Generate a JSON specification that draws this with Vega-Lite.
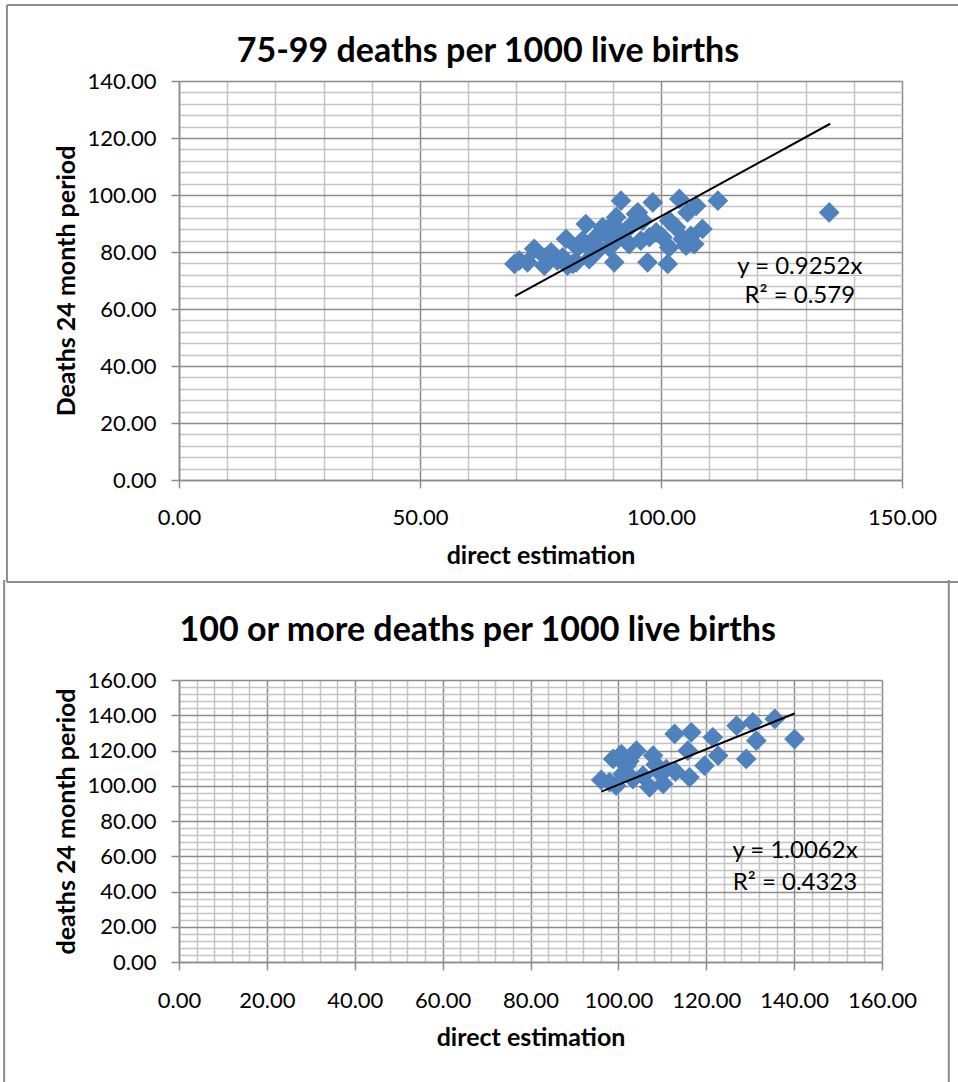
{
  "$schema": "https://vega.github.io/schema/vega-lite/v6.json",
  "background": "white",
  "padding": {"left": 3, "top": 3, "right": 0, "bottom": 0},
  "spacing": -5,
  "config": {
    "font": "Lato",
    "view": {"stroke": null},
    "axis": {
      "labelFont": "Lato", "labelFontSize": 22, "labelColor": "black", "labelFlush": false, "labelOverlap": false,
      "titleFont": "Lato", "titleFontSize": 25, "titleFontWeight": "bold", "titleColor": "black",
      "tickColor": "#8c8c8c", "tickSize": 8, "tickWidth": 1.5,
      "domainColor": "#8c8c8c", "domainWidth": 1.5,
      "gridWidth": 1.5
    }
  },
  "datasets": {
    "top_points": [
      {"direct": 69.6, "deaths": 75.8}, {"direct": 70.6, "deaths": 77.0}, {"direct": 72.3, "deaths": 76.4},
      {"direct": 73.7, "deaths": 81.1}, {"direct": 75.8, "deaths": 75.2}, {"direct": 76.1, "deaths": 78.1},
      {"direct": 77.2, "deaths": 79.9}, {"direct": 78.5, "deaths": 77.0}, {"direct": 79.6, "deaths": 78.1},
      {"direct": 80.3, "deaths": 84.6}, {"direct": 80.6, "deaths": 75.2}, {"direct": 81.7, "deaths": 75.8},
      {"direct": 82.4, "deaths": 76.4}, {"direct": 82.7, "deaths": 81.6}, {"direct": 83.7, "deaths": 84.0},
      {"direct": 84.4, "deaths": 89.8}, {"direct": 85.1, "deaths": 77.5}, {"direct": 85.1, "deaths": 81.6},
      {"direct": 86.5, "deaths": 85.2}, {"direct": 87.2, "deaths": 81.1}, {"direct": 87.9, "deaths": 88.7},
      {"direct": 88.6, "deaths": 86.3}, {"direct": 89.3, "deaths": 81.6}, {"direct": 90.0, "deaths": 89.8},
      {"direct": 90.3, "deaths": 76.4}, {"direct": 90.7, "deaths": 92.2}, {"direct": 91.4, "deaths": 85.2},
      {"direct": 91.7, "deaths": 98.0}, {"direct": 92.7, "deaths": 87.5}, {"direct": 93.4, "deaths": 82.8},
      {"direct": 94.1, "deaths": 89.8}, {"direct": 94.8, "deaths": 93.3}, {"direct": 95.2, "deaths": 93.9},
      {"direct": 95.8, "deaths": 84.0}, {"direct": 96.2, "deaths": 91.0}, {"direct": 97.2, "deaths": 76.4},
      {"direct": 97.6, "deaths": 85.2}, {"direct": 98.3, "deaths": 97.4}, {"direct": 99.0, "deaths": 86.9},
      {"direct": 100.3, "deaths": 85.2}, {"direct": 101.4, "deaths": 75.8}, {"direct": 101.7, "deaths": 91.0},
      {"direct": 101.7, "deaths": 81.6}, {"direct": 103.1, "deaths": 88.7}, {"direct": 103.8, "deaths": 98.6},
      {"direct": 104.5, "deaths": 84.6}, {"direct": 105.2, "deaths": 82.2}, {"direct": 105.5, "deaths": 93.9},
      {"direct": 106.2, "deaths": 85.7}, {"direct": 106.9, "deaths": 82.8}, {"direct": 107.3, "deaths": 96.2},
      {"direct": 108.6, "deaths": 88.1}, {"direct": 111.8, "deaths": 98.0}, {"direct": 134.9, "deaths": 93.9}
    ],
    "top_trend": [
      {"direct": 69.7, "deaths": 64.5},
      {"direct": 135.1, "deaths": 125.0}
    ],
    "top_labels": [
      {"direct": 128.8, "deaths": 74.9, "label": "y = 0.9252x"},
      {"direct": 128.8, "deaths": 64.6, "label": "R² = 0.579"}
    ],
    "top_title": [
      {"direct": 64.1, "deaths": 150.2, "label": "75-99 deaths per 1000 live births"}
    ],
    "top_frame": [
      {"x": -35.7, "x2": 161.8, "y": 166.7, "y2": 166.7},
      {"x": -35.7, "x2": -35.7, "y": 166.7, "y2": -35.8},
      {"x": -35.7, "x2": 161.8, "y": -35.8, "y2": -35.8}
    ],
    "bottom_points": [
      {"direct": 96.1, "deaths": 103.3}, {"direct": 98.0, "deaths": 102.0}, {"direct": 98.8, "deaths": 115.2},
      {"direct": 99.5, "deaths": 100.0}, {"direct": 100.7, "deaths": 118.0}, {"direct": 101.0, "deaths": 106.7},
      {"direct": 101.8, "deaths": 111.4}, {"direct": 102.5, "deaths": 114.0}, {"direct": 103.3, "deaths": 103.8},
      {"direct": 104.1, "deaths": 119.9}, {"direct": 105.6, "deaths": 105.7}, {"direct": 107.1, "deaths": 99.1},
      {"direct": 107.9, "deaths": 117.1}, {"direct": 108.5, "deaths": 112.0}, {"direct": 109.4, "deaths": 107.6},
      {"direct": 110.2, "deaths": 101.0}, {"direct": 110.9, "deaths": 109.5}, {"direct": 112.8, "deaths": 129.4},
      {"direct": 113.0, "deaths": 108.0}, {"direct": 115.8, "deaths": 119.9}, {"direct": 116.2, "deaths": 104.8},
      {"direct": 116.6, "deaths": 130.3}, {"direct": 119.6, "deaths": 111.4}, {"direct": 121.5, "deaths": 127.5},
      {"direct": 122.7, "deaths": 117.1}, {"direct": 126.9, "deaths": 134.1}, {"direct": 129.1, "deaths": 115.2},
      {"direct": 130.6, "deaths": 136.0}, {"direct": 131.4, "deaths": 125.6}, {"direct": 135.6, "deaths": 137.9},
      {"direct": 140.1, "deaths": 126.5}
    ],
    "bottom_trend": [
      {"direct": 96.1, "deaths": 96.7},
      {"direct": 140.1, "deaths": 141.0}
    ],
    "bottom_labels": [
      {"direct": 140.2, "deaths": 63.0, "label": "y = 1.0062x"},
      {"direct": 140.2, "deaths": 44.8, "label": "R² = 0.4323"}
    ],
    "bottom_title": [
      {"direct": 68.0, "deaths": 187.8, "label": "100 or more deaths per 1000 live births"}
    ],
    "bottom_frame": [
      {"x": -39.8, "x2": -39.8, "y": 216.7, "y2": -75},
      {"x": 175.2, "x2": 175.2, "y": 216.7, "y2": -75}
    ]
  },
  "vconcat": [
    {
      "width": 723,
      "height": 399,
      "resolve": {"axis": {"x": "independent", "y": "independent"}},
      "layer": [
        {
          "data": {"name": "top_points"},
          "mark": {"type": "point", "shape": "diamond", "filled": true, "size": 430, "color": "#4f81bd", "opacity": 1},
          "encoding": {
            "x": {"field": "direct", "type": "quantitative", "scale": {"domain": [0, 150], "nice": false, "zero": false},
                  "axis": {"orient": "top", "values": [10, 20, 30, 40, 60, 70, 80, 90, 110, 120, 130, 140], "grid": true, "gridColor": "#c4c4c4", "labels": false, "ticks": false, "domain": false, "title": null}},
            "y": {"field": "deaths", "type": "quantitative", "scale": {"domain": [0, 140], "nice": false, "zero": false},
                  "axis": {"orient": "right", "values": [4, 8, 12, 16, 24, 28, 32, 36, 44, 48, 52, 56, 64, 68, 72, 76, 84, 88, 92, 96, 104, 108, 112, 116, 124, 128, 132, 136], "grid": true, "gridColor": "#c4c4c4", "labels": false, "ticks": false, "domain": false, "title": null}}
          }
        },
        {
          "data": {"name": "top_trend"},
          "mark": {"type": "line", "color": "black", "strokeWidth": 2},
          "encoding": {
            "x": {"field": "direct", "type": "quantitative", "scale": {"domain": [0, 150], "nice": false, "zero": false},
                  "axis": {"orient": "bottom", "values": [0, 50, 100, 150], "format": ".2f", "grid": true, "gridColor": "#8c8c8c", "labelPadding": 19, "titlePadding": 15, "title": "direct estimation"}},
            "y": {"field": "deaths", "type": "quantitative", "scale": {"domain": [0, 140], "nice": false, "zero": false},
                  "axis": {"orient": "left", "values": [0, 20, 40, 60, 80, 100, 120, 140], "format": ".2f", "grid": true, "gridColor": "#8c8c8c", "labelPadding": 15, "titlePadding": 8, "title": "Deaths 24 month period"}}
          }
        },
        {
          "data": {"name": "top_labels"},
          "mark": {"type": "text", "font": "Lato", "fontSize": 24, "color": "black", "align": "center", "baseline": "middle"},
          "encoding": {
            "x": {"field": "direct", "type": "quantitative", "axis": null},
            "y": {"field": "deaths", "type": "quantitative", "axis": null},
            "text": {"field": "label"}
          }
        },
        {
          "data": {"name": "top_title"},
          "mark": {"type": "text", "font": "Lato", "fontSize": 34, "fontWeight": "bold", "color": "black", "align": "center", "baseline": "middle", "clip": false},
          "encoding": {
            "x": {"field": "direct", "type": "quantitative", "axis": null},
            "y": {"field": "deaths", "type": "quantitative", "axis": null},
            "text": {"field": "label"}
          }
        },
        {
          "data": {"name": "top_frame"},
          "mark": {"type": "rule", "color": "#8c8c8c", "strokeWidth": 2, "clip": false},
          "encoding": {
            "x": {"field": "x", "type": "quantitative", "axis": null},
            "x2": {"field": "x2"},
            "y": {"field": "y", "type": "quantitative", "axis": null},
            "y2": {"field": "y2"}
          }
        }
      ]
    },
    {
      "width": 703,
      "height": 282,
      "resolve": {"axis": {"x": "independent", "y": "independent"}},
      "layer": [
        {
          "data": {"name": "bottom_points"},
          "mark": {"type": "point", "shape": "diamond", "filled": true, "size": 430, "color": "#4f81bd", "opacity": 1},
          "encoding": {
            "x": {"field": "direct", "type": "quantitative", "scale": {"domain": [0, 160], "nice": false, "zero": false},
                  "axis": {"orient": "top", "values": [4, 8, 12, 16, 24, 28, 32, 36, 44, 48, 52, 56, 64, 68, 72, 76, 84, 88, 92, 96, 104, 108, 112, 116, 124, 128, 132, 136, 144, 148, 152, 156], "grid": true, "gridColor": "#c4c4c4", "labels": false, "ticks": false, "domain": false, "title": null}},
            "y": {"field": "deaths", "type": "quantitative", "scale": {"domain": [0, 160], "nice": false, "zero": false},
                  "axis": {"orient": "right", "values": [4, 8, 12, 16, 24, 28, 32, 36, 44, 48, 52, 56, 64, 68, 72, 76, 84, 88, 92, 96, 104, 108, 112, 116, 124, 128, 132, 136, 144, 148, 152, 156], "grid": true, "gridColor": "#c4c4c4", "labels": false, "ticks": false, "domain": false, "title": null}}
          }
        },
        {
          "data": {"name": "bottom_trend"},
          "mark": {"type": "line", "color": "black", "strokeWidth": 2},
          "encoding": {
            "x": {"field": "direct", "type": "quantitative", "scale": {"domain": [0, 160], "nice": false, "zero": false},
                  "axis": {"orient": "bottom", "values": [0, 20, 40, 60, 80, 100, 120, 140, 160], "format": ".2f", "grid": true, "gridColor": "#8c8c8c", "labelPadding": 20, "titlePadding": 14, "title": "direct estimation"}},
            "y": {"field": "deaths", "type": "quantitative", "scale": {"domain": [0, 160], "nice": false, "zero": false},
                  "axis": {"orient": "left", "values": [0, 20, 40, 60, 80, 100, 120, 140, 160], "format": ".2f", "grid": true, "gridColor": "#8c8c8c", "labelPadding": 15, "titlePadding": 8, "title": "deaths 24 month period"}}
          }
        },
        {
          "data": {"name": "bottom_labels"},
          "mark": {"type": "text", "font": "Lato", "fontSize": 24, "color": "black", "align": "center", "baseline": "middle"},
          "encoding": {
            "x": {"field": "direct", "type": "quantitative", "axis": null},
            "y": {"field": "deaths", "type": "quantitative", "axis": null},
            "text": {"field": "label"}
          }
        },
        {
          "data": {"name": "bottom_title"},
          "mark": {"type": "text", "font": "Lato", "fontSize": 34, "fontWeight": "bold", "color": "black", "align": "center", "baseline": "middle", "clip": false},
          "encoding": {
            "x": {"field": "direct", "type": "quantitative", "axis": null},
            "y": {"field": "deaths", "type": "quantitative", "axis": null},
            "text": {"field": "label"}
          }
        },
        {
          "data": {"name": "bottom_frame"},
          "mark": {"type": "rule", "color": "#8c8c8c", "strokeWidth": 2, "clip": false},
          "encoding": {
            "x": {"field": "x", "type": "quantitative", "axis": null},
            "x2": {"field": "x2"},
            "y": {"field": "y", "type": "quantitative", "axis": null},
            "y2": {"field": "y2"}
          }
        }
      ]
    }
  ]
}
